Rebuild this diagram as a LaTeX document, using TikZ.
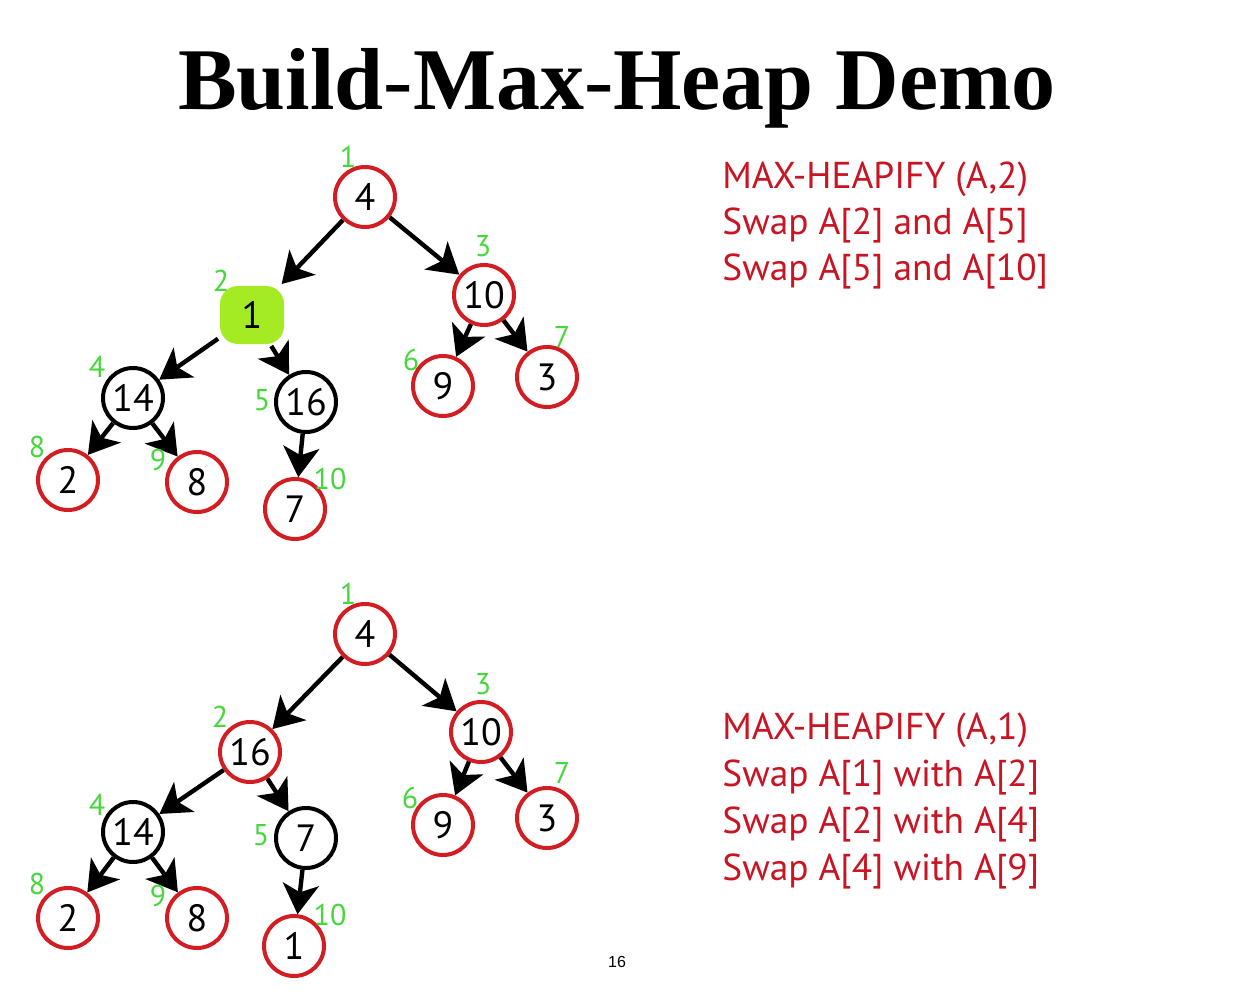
\documentclass[tikz,border=0pt]{standalone}
\usepackage{fontspec}
\setmainfont{Liberation Serif}
\newfontfamily\keyfont{PT Sans}
\newfontfamily\pagefont{Liberation Sans}
\usetikzlibrary{
  arrows.meta % For arrow tips
}
\definecolor{keyred}{RGB}{210,30,35}
\definecolor{notered}{RGB}{200,20,35}
\definecolor{idxgreen}{RGB}{70,215,60}
\definecolor{hilite}{RGB}{165,235,35}

\begin{document}
\begin{tikzpicture}[
      x=0.5pt, y=-0.5pt, % one unit per pixel of the slide
      >=Stealth, % Default arrow tip
      key/.style={circle, line width=2pt, minimum size=30pt, inner sep=0pt,
        font=\keyfont\fontsize{19}{19}\selectfont}, % heap element
      redkey/.style={key, draw=keyred},
      blackkey/.style={key, draw=black},
      hotkey/.style={key, rectangle, rounded corners=9pt, fill=hilite,
        minimum width=32pt, minimum height=29pt}, % element being heapified
      idx/.style={idxgreen, inner sep=0pt,
        font=\keyfont\fontsize{15}{15}\selectfont}, % array index
      edge/.style={line width=2.2pt, -{Stealth[length=15pt,width=18pt,inset=4pt]}},
      note/.style={notered, anchor=base west, inner sep=0pt,
        font=\keyfont\fontsize{18.7}{18.7}\selectfont},
    ]

    \useasboundingbox (0,0) rectangle (1242,1006);

    % Titel
    \node[font=\bfseries\fontsize{44}{44}\selectfont, anchor=base] (title)
      at (617,110) {Build{\mdseries-}Max{\mdseries-}Heap Demo};

    % Erster Baum
    \node[redkey]   (a1)  at (365,197) {4};
    \node[hotkey]   (a2)  at (252,315) {1};
    \node[redkey]   (a3)  at (484,295) {10};
    \node[blackkey] (a4)  at (133,398) {14};
    \node[blackkey] (a5)  at (306,402) {16};
    \node[redkey]   (a6)  at (443,386) {9};
    \node[redkey]   (a7)  at (547,377) {3};
    \node[redkey]   (a8)  at (68,480)  {2};
    \node[redkey]   (a9)  at (197,482) {8};
    \node[redkey]   (a10) at (295,509) {7};

    \foreach \i/\j in {a1/a2, a1/a3, a2/a4, a2/a5, a3/a6, a3/a7, a4/a8, a4/a9, a5/a10}
    \draw[edge] (\i) -- (\j);

    \foreach \k/\x/\y in {1/348/157, 2/221/281, 3/483/246, 4/97/367, 5/262/400,
      6/411/360, 7/562/337, 8/37/447, 9/158/460, 10/330/479}
    \node[idx] (ia\k) at (\x,\y) {\k};

    % Zweiter Baum
    \node[redkey]   (b1)  at (365,634) {4};
    \node[redkey]   (b2)  at (250,752) {16};
    \node[redkey]   (b3)  at (481,732) {10};
    \node[blackkey] (b4)  at (133,832) {14};
    \node[blackkey] (b5)  at (306,838) {7};
    \node[redkey]   (b6)  at (443,825) {9};
    \node[redkey]   (b7)  at (547,818) {3};
    \node[redkey]   (b8)  at (68,918)  {2};
    \node[redkey]   (b9)  at (197,918) {8};
    \node[redkey]   (b10) at (294,946) {1};

    \foreach \i/\j in {b1/b2, b1/b3, b2/b4, b2/b5, b3/b6, b3/b7, b4/b8, b4/b9, b5/b10}
    \draw[edge] (\i) -- (\j);

    \foreach \k/\x/\y in {1/348/594, 2/220/717, 3/483/684, 4/97/805, 5/261/835,
      6/410/798, 7/562/773, 8/37/884, 9/158/896, 10/330/915}
    \node[idx] (ib\k) at (\x,\y) {\k};

    % Erklaerungen
    \node[note] (na1) at (722,188) {MAX-HEAPIFY (A,2)};
    \node[note] (na2) at (722,234) {Swap A[2] and A[5]};
    \node[note] (na3) at (722,280) {Swap A[5] and A[10]};

    \node[note] (nb1) at (722,739) {MAX-HEAPIFY (A,1)};
    \node[note] (nb2) at (722,786) {Swap A[1] with A[2]};
    \node[note] (nb3) at (722,833) {Swap A[2] with A[4]};
    \node[note] (nb4) at (722,880) {Swap A[4] with A[9]};

    % Seitenzahl
    \node[font=\pagefont\fontsize{8}{8}\selectfont] (page) at (617,962) {16};

  \end{tikzpicture}
\end{document}
